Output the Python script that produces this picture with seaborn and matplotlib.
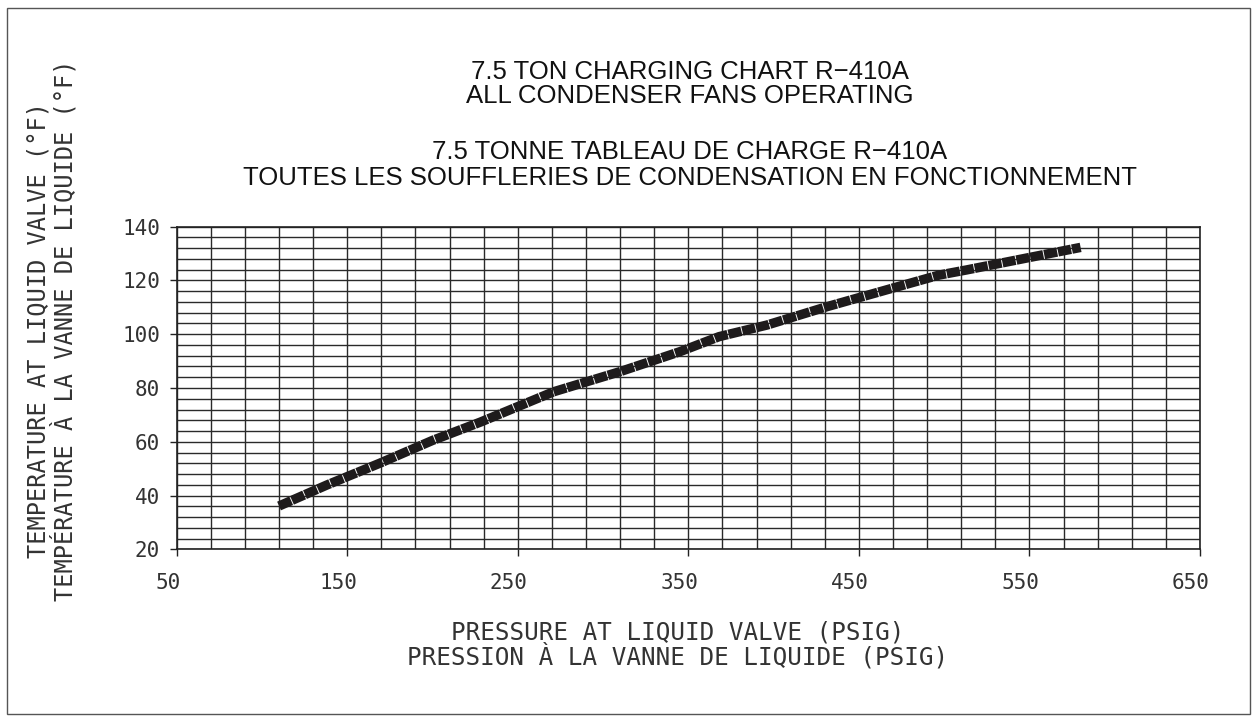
import numpy as np
import matplotlib
matplotlib.use("Agg")
import matplotlib.pyplot as plt
import matplotlib.transforms as mtransforms
from matplotlib.patches import Rectangle
import seaborn as sns
import pandas as pd

# ---- data ----
PRESSURE_PSIG = [110, 138, 169, 200, 228, 271, 310, 345, 368, 396, 431, 474, 497, 513, 548, 580]
TEMP_F = [36.1, 43.9, 52.0, 60.5, 67.3, 78.6, 86.1, 93.5, 99.1, 103.4, 110.2, 117.9, 122.0, 123.9, 128.3, 132.3]

X_TICKS = [50, 150, 250, 350, 450, 550, 650]
Y_TICKS = [20, 40, 60, 80, 100, 120, 140]
X_GRID_STEP = 20
Y_GRID_STEP = 4

TITLE_LINES = [
    "7.5 TON CHARGING CHART R\u2212410A",
    "ALL CONDENSER FANS OPERATING",
    "7.5 TONNE TABLEAU DE CHARGE R\u2212410A",
    "TOUTES LES SOUFFLERIES DE CONDENSATION EN FONCTIONNEMENT",
]
X_LABEL_LINES = [
    "PRESSURE AT LIQUID VALVE (PSIG)",
    "PRESSION \u00c0 LA VANNE DE LIQUIDE (PSIG)",
]
Y_LABEL_LINES = [
    "TEMPERATURE AT LIQUID VALVE (\u00b0F)",
    "TEMP\u00c9RATURE \u00c0 LA VANNE DE LIQUIDE (\u00b0F)",
]

sns.set_theme(style="white")
plt.rcParams['font.family'] = ['DejaVu Sans Mono', 'DejaVu Sans']

W, H = 1253, 716
fig = plt.figure(figsize=(W / 100, H / 100), dpi=100)
fig.patch.set_facecolor("white")

ax_l, ax_r, ax_t, ax_b = 176.7, 1200.0, 226.7, 549.3
ax = fig.add_axes([ax_l / W, 1 - ax_b / H, (ax_r - ax_l) / W, (ax_b - ax_t) / H])
ax.set_facecolor("white")

df = pd.DataFrame({"psig": PRESSURE_PSIG, "temp": TEMP_F})
sns.lineplot(data=df, x="psig", y="temp", ax=ax, sort=False, estimator=None,
             color="#1e1b1c", linewidth=6.8, linestyle=(0, (1.4, 0.1)),
             dash_capstyle="butt", zorder=3)

ax.set_xlim(X_TICKS[0], X_TICKS[-1])
ax.set_ylim(Y_TICKS[0], Y_TICKS[-1])
ax.set_xticks(X_TICKS)
ax.set_yticks(Y_TICKS)
ax.set_xticks(np.arange(X_TICKS[0], X_TICKS[-1] + 1, X_GRID_STEP), minor=True)
ax.set_yticks(np.arange(Y_TICKS[0], Y_TICKS[-1] + 1, Y_GRID_STEP), minor=True)
ax.set_axisbelow(True)
ax.grid(True, which="both", color="#2a2a2a", linewidth=1.0)
ax.set_xlabel("")
ax.set_ylabel("")

ax.tick_params(which="major", direction="out", length=5, width=1.0, color="#222222",
               pad=12, labelsize=15, labelcolor="#333333", bottom=True, left=True)
ax.tick_params(axis="y", which="major", pad=7)
ax.tick_params(which="minor", length=0)
for sp in ax.spines.values():
    sp.set_visible(True)
    sp.set_color("#222222")
    sp.set_linewidth(1.2)

shift = mtransforms.ScaledTranslation(-9 / 100, 0, fig.dpi_scale_trans)
for lab in ax.get_xticklabels():
    lab.set_transform(lab.get_transform() + shift)

# titles (two blocks of two lines)
title_font = ["Liberation Sans", "DejaVu Sans"]
fig.text(690 / W, 1 - 84 / H, "\n".join(TITLE_LINES[:2]), ha="center", va="center",
         multialignment="center", fontsize=18.5, linespacing=1.05,
         family=title_font, color="#111111")
fig.text(690 / W, 1 - 165 / H, "\n".join(TITLE_LINES[2:]), ha="center", va="center",
         multialignment="center", fontsize=18.5, linespacing=1.15,
         family=title_font, color="#111111")

# x label (one two-line text)
fig.text(678 / W, 1 - 645 / H, "\n".join(X_LABEL_LINES), ha="center", va="center",
         multialignment="center", fontsize=17.5, linespacing=0.95, color="#333333")

# y label (one two-line rotated text)
fig.text(52 / W, 1 - 330 / H, "\n".join(Y_LABEL_LINES), ha="center", va="center",
         multialignment="center", fontsize=17, linespacing=1.0, rotation=90,
         color="#333333")

# outer frame
fig.patches.append(Rectangle((7 / W, 2 / H), (1250 - 7) / W, (711 - 5) / H,
                             transform=fig.transFigure, fill=False,
                             edgecolor="#555555", linewidth=1.0))

fig.savefig("out.png", dpi=100)
